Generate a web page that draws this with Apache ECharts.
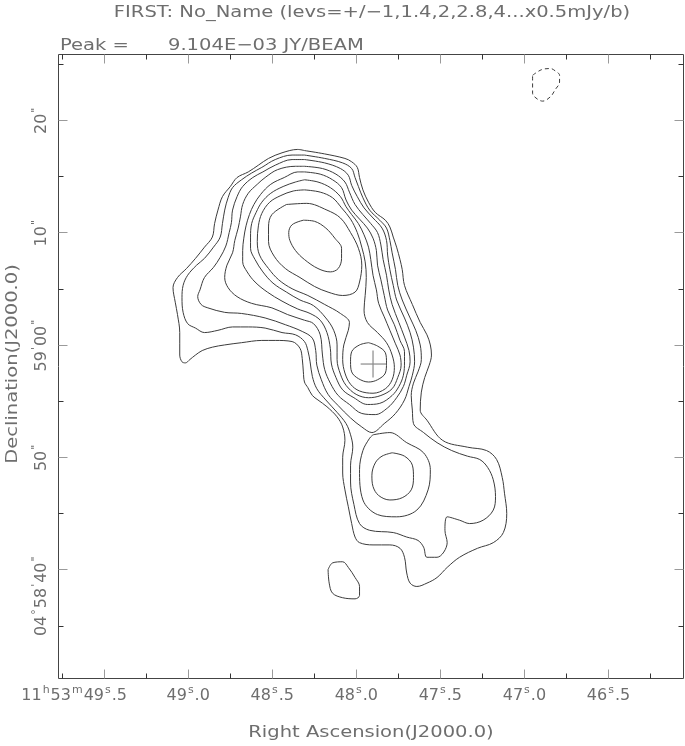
<!DOCTYPE html>
<html><head><meta charset="utf-8">
<script src="https://cdn.jsdelivr.net/npm/echarts@6/dist/echarts.min.js"></script>
<style>html,body{margin:0;padding:0;background:#fff}#c{width:685px;height:746px}</style>
</head><body><div id="c"></div>
<script>
// ---------- DATA (offsets in arcsec from the cross: x = west, y = north) ----------
const TITLE = 'FIRST: No_Name (levs=+/\u22121,1.4,2,2.8,4...x0.5mJy/b)';
const PEAK_LABEL = 'Peak =';
const PEAK_VALUE = '9.104E\u221203 JY/BEAM';
const X_NAME = 'Right Ascension(J2000.0)';
const Y_NAME = 'Declination(J2000.0)';

// map centre (position of the cross)
const RA_CENTER_S = 47.9006;   // seconds of time after 11h53m
const ARCSEC_PER_S = 14.96;    // arcsec per second of RA at this declination
const DEC_SHIFT = 1.69;        // arcsec: 04d59m00s lies 1.69" north of the cross
const X_MIN = -27.99, X_MAX = 27.63, Y_MIN = -27.99, Y_MAX = 27.55;

// tick labels
const RA_MAJOR = [49.5, 49.0, 48.5, 48.0, 47.5, 47.0, 46.5];
const RA_MINOR = [49.75, 49.25, 48.75, 48.25, 47.75, 47.25, 46.75, 46.25];
const RA_LABELS = ['{n|11}{s|h}{n|53}{s|m}{n|49}{s|s}{n|.5}{px| }', '{n|49}{s|s}{n|.0}', '{n|48}{s|s}{n|.5}',
  '{n|48}{s|s}{n|.0}', '{n|47}{s|s}{n|.5}', '{n|47}{s|s}{n|.0}', '{n|46}{s|s}{n|.5}'];
const DEC_MAJOR = [20, 10, 0, -10, -20];          // arcsec relative to 04d59m00s
const DEC_MINOR = [25, 15, 5, -5, -15, -25];
const DEC_LABELS = ['{n|20}{s|"}', '{n|10}{s|"}', "{n|59}{s|'}{n|00}{s|\"}", '{n|50}{s|"}',
  "{n|04}{s|\u00b0}{n|58}{s|'}{n|40}{s|\"}{py| }"];

// contours (levels 1..9 = 0.5,0.7,1,1.4,2,2.8,4,5.6,8 mJy/beam)
const L1_MAIN = [[-6.1,19.0],[-4.3,18.7],[-2.5,18.3],[-1.9,18.0],[-1.4,17.5],[-1.2,16.6],[-0.9,15.5],[-0.4,14.4],[0.2,13.5],[1.1,12.8],[1.5,12.2],[1.8,11.3],[2.1,10.4],[2.4,9.3],[2.6,8.4],[2.8,7.0],[3.5,5.3],[4.2,3.7],[4.8,2.6],[5.1,1.7],[5.2,0.8],[5.0,-0.1],[4.6,-1.2],[4.3,-2.5],[4.2,-4.1],[4.8,-5.0],[6.2,-6.8],[8.4,-7.4],[10.1,-7.7],[11.0,-8.5],[11.5,-10.1],[11.7,-11.5],[11.9,-13.3],[11.6,-15.0],[10.7,-15.9],[9.3,-16.4],[7.7,-17.2],[6.6,-18.1],[5.7,-19.0],[4.8,-19.5],[3.9,-19.8],[3.3,-19.5],[3.0,-18.6],[2.8,-17.2],[2.4,-16.4],[1.5,-16.1],[0.0,-16.1],[-1.2,-15.9],[-1.6,-15.4],[-1.9,-14.2],[-2.2,-12.7],[-2.5,-11.2],[-2.7,-9.7],[-2.7,-8.3],[-2.5,-6.8],[-2.7,-5.6],[-3.2,-4.7],[-4.1,-3.8],[-4.9,-3.2],[-5.4,-2.8],[-5.8,-2.1],[-6.1,-1.6],[-6.2,-0.7],[-6.3,0.5],[-6.5,1.4],[-7.2,2.0],[-8.7,2.1],[-9.9,2.1],[-11.7,1.9],[-13.2,1.7],[-14.3,1.5],[-15.2,1.2],[-15.8,0.8],[-16.3,0.4],[-16.7,0.1],[-17.0,0.2],[-17.2,0.8],[-17.2,2.8],[-17.4,4.4],[-17.6,5.5],[-17.8,6.8],[-17.4,7.7],[-16.6,8.5],[-15.8,9.4],[-15.0,10.4],[-14.3,11.3],[-14.1,12.5],[-13.8,13.7],[-13.4,14.9],[-12.7,15.8],[-12.1,16.6],[-11.1,17.1],[-10.2,17.7],[-9.3,18.3],[-8.1,18.8],[-6.7,19.1]];
const L1_BLOB = [[-4.0,-18.3],[-3.6,-17.7],[-2.7,-17.6],[-2.2,-18.1],[-1.6,-19.0],[-1.2,-19.8],[-1.2,-20.6],[-1.6,-20.9],[-2.7,-20.8],[-3.6,-20.4],[-3.9,-19.5]];
const NEG_1 = [[14.2,25.7],[15.0,26.2],[15.8,26.3],[16.2,26.1],[16.6,25.7],[16.6,25.1],[16.2,24.4],[15.8,23.8],[15.1,23.4],[14.6,23.6],[14.2,24.1],[14.2,25.0]];
const L2 = [[-6.1,18.6],[-4.3,18.3],[-2.7,17.9],[-1.9,17.4],[-1.6,16.6],[-1.3,15.8],[-0.9,14.8],[-0.3,13.7],[0.6,12.8],[1.2,12.1],[1.5,11.0],[1.7,9.9],[2.0,8.4],[2.2,7.0],[2.6,5.7],[3.3,4.1],[3.8,3.0],[4.2,1.7],[4.3,0.4],[4.0,-0.7],[3.6,-1.7],[3.4,-2.8],[3.5,-4.1],[3.6,-5.3],[4.5,-6.1],[5.7,-7.0],[7.0,-7.7],[8.4,-8.2],[9.5,-8.5],[10.2,-9.2],[10.7,-10.3],[10.9,-11.8],[10.7,-13.0],[9.8,-13.9],[8.6,-14.2],[7.7,-13.9],[6.6,-13.6],[6.4,-14.8],[6.6,-15.9],[5.7,-17.2],[4.8,-17.2],[4.5,-16.3],[4.0,-15.7],[3.0,-15.4],[1.8,-15.0],[-0.3,-14.8],[-1.2,-14.2],[-1.7,-12.5],[-2.0,-10.5],[-2.0,-9.0],[-1.8,-7.4],[-2.0,-6.3],[-2.4,-5.3],[-3.2,-4.3],[-4.2,-3.2],[-5.0,-2.2],[-5.4,-1.1],[-5.6,0.2],[-5.8,1.2],[-6.1,2.0],[-6.9,2.6],[-8.1,2.8],[-9.6,3.2],[-11.1,3.3],[-12.5,3.3],[-13.8,3.0],[-15.0,2.8],[-15.8,3.2],[-16.5,3.6],[-16.9,4.6],[-17.0,5.9],[-16.9,7.0],[-16.5,7.9],[-15.7,8.8],[-15.0,9.4],[-14.2,10.4],[-13.6,11.3],[-13.4,12.5],[-13.2,13.7],[-12.9,14.8],[-12.5,15.7],[-11.7,16.4],[-10.8,17.0],[-9.9,17.5],[-8.7,18.2],[-7.2,18.6]];
const L3_MAIN = [[-6.1,18.2],[-4.3,17.9],[-2.9,17.4],[-2.2,16.8],[-1.9,15.9],[-1.4,14.9],[-0.8,13.9],[0.0,13.0],[0.8,12.1],[1.2,11.0],[1.3,9.7],[1.5,8.4],[1.8,7.0],[2.1,5.7],[2.8,4.1],[3.3,2.8],[3.6,1.5],[3.7,0.2],[3.5,-1.0],[3.2,-2.0],[2.8,-3.2],[2.0,-4.4],[1.0,-5.3],[-0.1,-6.1],[-1.0,-5.6],[-2.0,-4.8],[-3.1,-3.7],[-4.0,-2.7],[-4.6,-1.4],[-5.0,-0.1],[-5.1,1.2],[-5.4,2.3],[-6.3,2.9],[-7.8,3.5],[-9.6,4.1],[-11.7,4.5],[-13.2,4.6],[-14.7,5.0],[-15.3,5.3],[-15.6,6.0],[-15.4,6.6],[-15.0,7.7],[-14.2,8.6],[-13.6,9.5],[-13.1,10.5],[-12.8,11.7],[-12.6,12.6],[-12.5,13.7],[-12.1,14.9],[-11.6,15.8],[-10.7,16.6],[-9.8,17.1],[-8.7,17.7],[-7.2,18.2]];
const L3_SOUTH = [[0.0,-6.3],[1.5,-6.1],[3.0,-7.0],[4.5,-7.9],[5.1,-9.4],[4.9,-11.2],[3.9,-13.0],[2.1,-13.6],[0.4,-13.4],[-0.9,-12.1],[-1.2,-9.4],[-0.9,-7.7],[-0.3,-6.6]];
const L4_MAIN = [[-6.1,17.6],[-4.5,17.4],[-3.3,16.9],[-2.5,16.2],[-2.1,15.3],[-1.6,14.2],[-0.9,13.3],[-0.2,12.5],[0.4,11.7],[0.7,10.6],[0.9,9.3],[1.2,7.9],[1.4,6.6],[1.7,5.3],[2.3,3.7],[2.8,2.4],[3.2,1.2],[3.3,0.2],[3.0,-1.0],[2.7,-2.0],[2.1,-3.0],[1.3,-3.9],[0.2,-4.5],[-1.0,-4.4],[-2.1,-3.6],[-3.1,-2.8],[-3.8,-1.7],[-4.3,-0.5],[-4.5,0.8],[-4.7,2.6],[-5.3,3.6],[-6.1,3.9],[-7.6,4.4],[-9.0,5.0],[-10.8,5.4],[-12.1,6.0],[-12.9,6.8],[-13.2,7.7],[-13.0,8.8],[-12.5,9.9],[-12.3,11.0],[-12.0,12.1],[-11.8,13.1],[-11.6,14.2],[-11.1,15.2],[-10.3,16.0],[-9.6,16.6],[-8.5,17.3],[-6.9,17.6]];
const L4_SOUTH = [[1.7,-7.9],[2.8,-8.2],[3.5,-9.0],[3.6,-10.1],[3.4,-11.2],[2.6,-11.9],[1.5,-12.1],[0.5,-11.7],[0.0,-10.9],[-0.1,-9.9],[0.2,-8.8],[0.8,-8.2]];
const L5 = [[-6.1,17.1],[-4.7,16.9],[-3.6,16.4],[-2.8,15.7],[-2.4,14.6],[-1.9,13.7],[-1.2,12.9],[-0.5,12.1],[0.0,11.2],[0.3,10.1],[0.4,8.8],[0.7,7.5],[1.0,6.1],[1.3,4.8],[1.9,3.5],[2.4,2.1],[2.8,1.1],[2.8,0.2],[2.7,-1.0],[2.3,-2.0],[1.7,-2.8],[0.6,-3.5],[-0.5,-3.6],[-1.7,-3.0],[-2.7,-2.3],[-3.3,-1.2],[-3.7,0.0],[-3.8,1.4],[-4.1,2.8],[-4.7,3.9],[-5.6,4.5],[-6.7,4.9],[-8.1,5.6],[-9.4,6.4],[-10.5,7.3],[-11.2,8.2],[-11.6,9.1],[-11.6,10.1],[-11.5,11.2],[-11.3,12.3],[-11.0,13.3],[-10.6,14.2],[-10.0,15.1],[-9.1,16.0],[-7.9,16.6],[-6.7,17.1]];
const L6 = [[-6.1,16.4],[-4.9,16.2],[-3.8,15.7],[-2.9,14.9],[-2.4,14.0],[-1.9,13.3],[-1.3,12.5],[-0.8,11.5],[-0.4,10.4],[-0.2,9.3],[0.0,7.9],[0.3,6.6],[0.5,5.4],[1.0,4.2],[1.5,3.0],[2.0,1.8],[2.4,0.8],[2.5,-0.1],[2.2,-1.2],[1.7,-2.2],[0.7,-2.8],[-0.4,-3.0],[-1.5,-2.7],[-2.4,-1.9],[-2.9,-0.9],[-3.2,0.4],[-3.2,1.7],[-3.5,3.0],[-4.2,4.1],[-5.3,5.2],[-6.5,5.7],[-7.7,6.4],[-8.9,7.2],[-9.8,8.2],[-10.5,9.3],[-10.9,10.3],[-10.9,11.3],[-10.8,12.5],[-10.4,13.5],[-9.9,14.4],[-9.1,15.2],[-8.0,15.8],[-6.9,16.2]];
const L7 = [[-6.1,15.5],[-4.7,15.3],[-3.6,14.8],[-2.8,13.9],[-2.0,12.9],[-1.4,11.7],[-1.0,10.4],[-0.7,9.1],[-0.6,7.7],[-0.7,6.1],[-0.8,4.8],[-0.5,3.7],[0.4,2.8],[1.2,1.9],[1.7,0.8],[1.9,-0.3],[1.7,-1.4],[1.1,-2.2],[0.0,-2.6],[-1.2,-2.4],[-2.0,-1.8],[-2.5,-0.8],[-2.7,0.4],[-2.6,1.7],[-2.2,3.0],[-2.1,3.7],[-2.9,4.5],[-4.3,5.3],[-5.8,6.1],[-7.2,6.7],[-8.4,7.5],[-9.3,8.5],[-10.1,9.7],[-10.3,10.9],[-10.2,12.3],[-9.9,13.4],[-9.2,14.4],[-8.2,15.0],[-7.1,15.4]];
const L8_NORTH = [[-7.7,14.2],[-5.9,14.3],[-4.1,13.7],[-2.9,13.0],[-2.0,11.7],[-1.3,10.3],[-1.0,8.8],[-1.2,7.3],[-1.6,6.4],[-2.7,6.1],[-4.0,6.4],[-5.2,6.9],[-6.5,7.7],[-7.8,8.5],[-8.8,9.6],[-9.3,10.9],[-9.3,12.2],[-9.0,13.3]];
const L8_CORE = [[-0.4,1.9],[0.4,1.6],[1.1,1.0],[1.2,0.1],[1.1,-0.8],[0.4,-1.4],[-0.4,-1.6],[-1.3,-1.3],[-1.9,-0.7],[-2.0,0.2],[-1.9,1.1],[-1.2,1.7]];
const L9 = [[-6.2,12.8],[-5.2,12.7],[-4.2,12.1],[-3.4,11.2],[-2.8,10.3],[-2.8,9.4],[-3.1,8.5],[-3.8,8.2],[-4.9,8.5],[-6.1,9.3],[-6.9,10.1],[-7.4,11.0],[-7.5,11.7],[-7.2,12.4]];
const CROSS_H = [[-1.1,0.0],[1.2,0.0]];
const CROSS_V = [[0.0,1.2],[0.0,-1.2]];

const POSITIVE = [L1_MAIN, L1_BLOB, L2, L3_MAIN, L3_SOUTH, L4_MAIN, L4_SOUTH, L5, L6, L7, L8_NORTH, L8_CORE, L9];
const NEGATIVE = [NEG_1];

// ---------- STYLE ----------
const FONT = 'DejaVu Sans';
const TXT = '#6e6e6e';
const INK = '#3c3c3c';
const FS = 16;
const WIDE = 1.22;   // horizontal stretch of the plotter-style lettering

const xOfRA = ra => (RA_CENTER_S - ra) * ARCSEC_PER_S;
const yOfDec = d => d + DEC_SHIFT;
const xMaj = RA_MAJOR.map(xOfRA), xMin = RA_MINOR.map(xOfRA);
const yMaj = DEC_MAJOR.map(yOfDec), yMin = DEC_MINOR.map(yOfDec);
function nearest(arr, v) { let b = 0; arr.forEach((a, i) => { if (Math.abs(a - v) < Math.abs(arr[b] - v)) b = i; }); return b; }

const rich = {
  n: { fontSize: FS, fontFamily: FONT, color: TXT, lineHeight: 22 },
  s: { fontSize: 11, fontFamily: FONT, color: TXT, lineHeight: 10, verticalAlign: 'top', padding: [0, 1, 0, 1] },
  px: { width: 60 },
  py: { width: 52 }
};

function axisCommon(extra) {
  return Object.assign({
    type: 'value', gridIndex: 0,
    axisLine: { show: false, onZero: false },
    splitLine: { show: false },
    axisLabel: { show: false }
  }, extra);
}
function ticks(values, len, color) {
  return { show: true, inside: true, length: len, customValues: values, lineStyle: { color: color, width: 1 } };
}

const xAxes = [
  axisCommon({ position: 'bottom', min: X_MIN, max: X_MAX, axisTick: ticks(xMaj, 9, '#9a9a9a'),
    axisLabel: { show: true, customValues: xMaj, margin: 6, hideOverlap: false,
      formatter: v => RA_LABELS[nearest(xMaj, v)], rich: rich } }),
  axisCommon({ position: 'bottom', min: X_MIN, max: X_MAX, axisTick: ticks(xMin, 5, '#333') }),
  axisCommon({ position: 'top', min: X_MIN, max: X_MAX, axisTick: ticks(xMaj, 9, '#9a9a9a') }),
  axisCommon({ position: 'top', min: X_MIN, max: X_MAX, axisTick: ticks(xMin, 5, '#333') })
];
const yAxes = [
  axisCommon({ position: 'left', min: Y_MIN, max: Y_MAX, axisTick: ticks(yMaj, 9, '#9a9a9a'),
    axisLabel: { show: true, customValues: yMaj, margin: 6, rotate: 90, hideOverlap: false,
      formatter: v => DEC_LABELS[nearest(yMaj, v)], rich: rich } }),
  axisCommon({ position: 'left', min: Y_MIN, max: Y_MAX, axisTick: ticks(yMin, 5, '#333') }),
  axisCommon({ position: 'right', min: Y_MIN, max: Y_MAX, axisTick: ticks(yMaj, 9, '#9a9a9a') }),
  axisCommon({ position: 'right', min: Y_MIN, max: Y_MAX, axisTick: ticks(yMin, 5, '#333') })
];

function contourSeries(pts, dashed) {
  return {
    type: 'line', xAxisIndex: 0, yAxisIndex: 0, data: pts.concat([pts[0]]),
    showSymbol: false, symbol: 'none', smooth: 0.35, silent: true, clip: true,
    lineStyle: { color: INK, width: 1, type: dashed ? [4, 3] : 'solid' }
  };
}
const series = POSITIVE.map(p => contourSeries(p, false))
  .concat(NEGATIVE.map(p => contourSeries(p, true)))
  .concat([CROSS_H, CROSS_V].map(p => ({
    type: 'line', xAxisIndex: 0, yAxisIndex: 0, data: p, showSymbol: false, symbol: 'none', silent: true,
    lineStyle: { color: '#8a8a8a', width: 1.2 }
  })));

function label(text, x, y, align, rotation) {
  return { type: 'text', x: x, y: y, scaleX: WIDE, rotation: rotation || 0, silent: true,
    style: { text: text, font: FS + 'px "' + FONT + '"', fill: TXT, align: align, verticalAlign: 'middle' } };
}

const chart = echarts.init(document.getElementById('c'));
chart.setOption({
  animation: false,
  backgroundColor: '#fff',
  grid: { left: 58.5, top: 54.5, width: 625, height: 624, show: true, borderColor: '#444', borderWidth: 1, backgroundColor: 'transparent' },
  xAxis: xAxes,
  yAxis: yAxes,
  series: series,
  graphic: [
    label(TITLE, 372, 13, 'center'),
    label(PEAK_LABEL, 60, 46, 'left'),
    label(PEAK_VALUE, 168, 46, 'left'),
    label(X_NAME, 371, 733, 'center'),
    label(Y_NAME, 13, 364, 'center', Math.PI / 2)
  ]
});
</script></body></html>
